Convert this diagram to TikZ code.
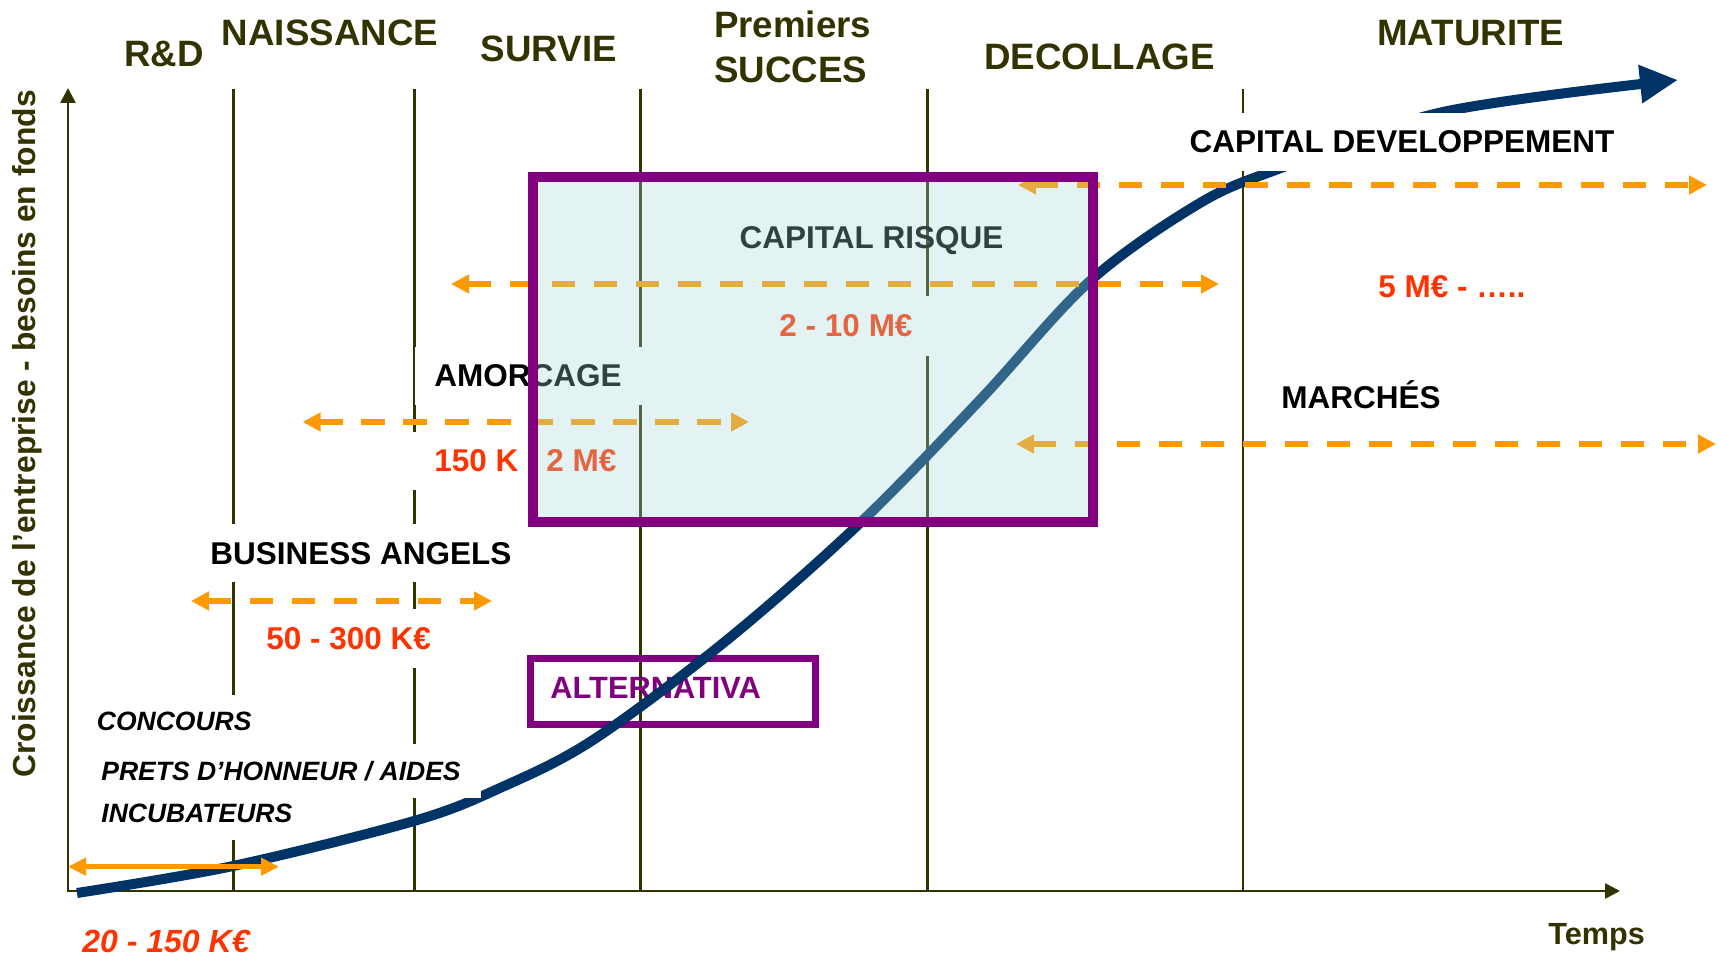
\documentclass[tikz,border=0pt]{standalone}
\usepackage{fontspec}
\setmainfont{Liberation Sans}
\usetikzlibrary{arrows.meta}
\definecolor{darkolive}{HTML}{333300}
\definecolor{navyc}{HTML}{003366}
\definecolor{orangec}{HTML}{FF9900}
\definecolor{valred}{HTML}{FF3300}
\definecolor{boxpurple}{HTML}{800080}
\definecolor{boxfill}{HTML}{A5DADA}
\tikzset{
  headtxt/.style={font=\bfseries\fontsize{18.35pt}{22pt}\selectfont, text=darkolive, anchor=base},
  txtlabel/.style={font=\bfseries\fontsize{15.75pt}{19pt}\selectfont, text=black, anchor=base},
  valtext/.style={font=\bfseries\fontsize{15.75pt}{19pt}\selectfont, text=valred, anchor=base},
  ital/.style={font=\bfseries\itshape\fontsize{13.25pt}{16pt}\selectfont, text=black, anchor=base west},
  whitebox/.style={fill=white, inner xsep=5pt},
  phaseline/.style={draw=darkolive, line width=1.3pt},
  axisline/.style={draw=darkolive, line width=1.3pt, -{Triangle[length=7.5pt,width=7.5pt]}},
  dasharrow/.style={draw=orangec, line width=3pt, dash pattern=on 11.75pt off 9.25pt,
    {Triangle[length=9pt,width=9pt]}-{Triangle[length=9pt,width=9pt]}},
  solidarrow/.style={draw=orangec, line width=2.5pt,
    {Triangle[length=9pt,width=8.5pt]}-{Triangle[length=9pt,width=8.5pt]}},
}
\begin{document}
\begin{tikzpicture}[x=0.5pt,y=-0.5pt]
\fill[white] (0,0) rectangle (1719,956);
\useasboundingbox (0,0) rectangle (1719,956);

% headings
\node[headtxt] (rd) at (164,67) {R\&D};
\node[headtxt] (naiss) at (330,46) {NAISSANCE};
\node[headtxt] (survie) at (548.7,62) {SURVIE};
\node[headtxt, anchor=base west, inner sep=0pt] (prem) at (713.7,38) {Premiers};
\node[headtxt, anchor=base west, inner sep=0pt] (succ) at (713.7,83) {SUCCES};
\node[headtxt] (decol) at (1099.6,70) {DECOLLAGE};
\node[headtxt] (matu) at (1470.7,46) {MATURITE};

% axes
\coordinate (ybot) at (68,892.3);
\coordinate (origin) at (68,891);
\coordinate (ytop) at (68,88);
\coordinate (xend) at (1620,891);
\draw[axisline] (ybot) -- (ytop);
\draw[axisline] (origin) -- (xend);

% phase lines
\foreach \px in {233.5,414.5,640.5,927.5,1243}
  \draw[phaseline] (\px,89) -- (\px,891);

% axis labels
\node[font=\bfseries\fontsize{15.9pt}{19pt}\selectfont, text=darkolive, rotate=90,
      anchor=base west, inner sep=0pt] (ylab) at (35,778)
      {Croissance de l’entreprise - besoins en fonds};
\node[font=\bfseries\fontsize{15.3pt}{18pt}\selectfont, text=darkolive,
      anchor=base west, inner sep=0pt] (temps) at (1548,944) {Temps};

% ALTERNATIVA
\node[draw=boxpurple, line width=3.75pt, minimum width=142.3pt, minimum height=32.8pt,
      inner sep=0pt] (altbox) at (673,691.5) {};
\node[font=\bfseries\fontsize{15.4pt}{18pt}\selectfont, text=boxpurple,
      anchor=base west, inner sep=0pt] (alttext) at (550,698.5) {ALTERNATIVA};

% growth curve
\draw[navyc, line width=5pt, -{Triangle[length=19pt,width=18pt]}]
  plot[smooth, tension=0.55] coordinates {(77,893) (233,866) (414,821) (500,788) (593,740)
  (727,640) (860,523) (980,400) (1090,281) (1200,203) (1281,168) (1443,112) (1678,80)};

% labels with white backgrounds
\node[txtlabel, whitebox, minimum height=29pt] (capdev) at (1402,152.8) {CAPITAL DEVELOPPEMENT};
\node[txtlabel, whitebox, minimum height=29pt] (ba) at (361,564.3) {BUSINESS ANGELS};
\node[valtext, whitebox, minimum height=29.5pt] (v50) at (348.6,649.3) {50 - 300 K€};
\node[valtext, whitebox, minimum height=29pt, anchor=base west, inner xsep=10.5pt] (v150)
  at (413,471.6) {150 K - 2 M€};
\node[txtlabel, whitebox, minimum height=29pt, anchor=west, inner xsep=10pt,
      text width=102.5pt, align=left] (amor) at (414,376) {AMORCAGE};
\draw[darkolive, line width=0.4pt] (amor.north west) -- (amor.south west);
\node[valtext, whitebox, minimum height=30pt, inner xsep=10pt] (v210) at (846,337) {2 - 10 M€};
\node[txtlabel] (cr) at (871.5,248.8) {CAPITAL RISQUE};
\node[txtlabel] (march) at (1361,408.8) {MARCHÉS};
\node[valtext, anchor=base west, inner sep=0pt] (v5) at (1378,297.8) {5 M€ - …..};
\node[ital, whitebox, minimum height=26pt] (conc) at (86.5,730) {CONCOURS};
\node[ital, whitebox, minimum height=27pt, inner xsep=10pt] (prets) at (81,780.2)
  {PRETS D’HONNEUR / AIDES};
\node[ital, whitebox, minimum height=26pt] (incub) at (91,822.8) {INCUBATEURS};
\node[font=\bfseries\itshape\fontsize{16pt}{19pt}\selectfont, text=valred, anchor=base]
  (v20) at (166,952) {20 - 150 K€};

% financing ranges
\coordinate (cdL) at (1018,185);  \coordinate (cdR) at (1707,185);
\coordinate (crL) at (451,284);   \coordinate (crR) at (1219,284);
\coordinate (amL) at (302.6,422); \coordinate (amR) at (749,422);
\coordinate (maL) at (1016,444);  \coordinate (maR) at (1716,444);
\coordinate (baL) at (191,601);   \coordinate (baR) at (492,601);
\coordinate (sdL) at (68,866.7);  \coordinate (sdR) at (279,866.7);
\draw[dasharrow] (cdL) -- (cdR);
\draw[dasharrow] (crL) -- (crR);
\draw[dasharrow] (amL) -- (amR);
\draw[dasharrow] (maL) -- (maR);
\draw[dasharrow] (baL) -- (baR);
\draw[solidarrow] (sdL) -- (sdR);

% capital risque box
\node[draw=boxpurple, line width=5pt, fill=boxfill, fill opacity=0.3,
      minimum width=280.2pt, minimum height=172.5pt, inner sep=0pt] (crbox) at (812.8,349.2) {};
\end{tikzpicture}
\end{document}
